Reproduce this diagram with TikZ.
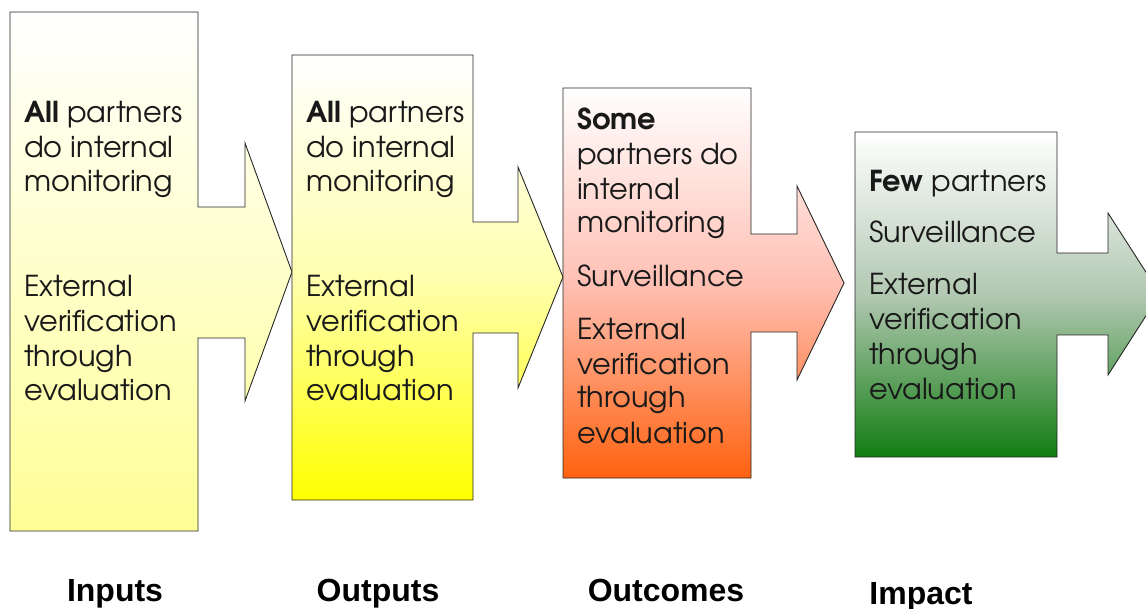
\documentclass[tikz,border=0pt]{standalone}
\usepackage{fontspec}
\newfontfamily\bodyfont{texgyreadventor}[Extension=.otf, UprightFont=*-regular, BoldFont=*-bold]
\newfontfamily\labelfont{Liberation Sans}
\tikzset{
  arrowshape/.style={draw=black!85, line width=0.9pt, line join=miter},
  linetext/.style={anchor=base west, inner sep=0pt, font=\bodyfont\fontsize{28.8}{34}\selectfont, text=black!90},
  stagelabel/.style={anchor=base, inner sep=0pt, font=\labelfont\bfseries\fontsize{32}{38}\selectfont}
}
\begin{document}
\begin{tikzpicture}[x=1pt,y=-1pt]
\useasboundingbox (0,0) rectangle (1146,609);
% Shape 1: Inputs
\path[arrowshape, top color=white, bottom color={rgb,255:red,255;green,255;blue,150}]
  (10,12) -- (198,12) -- (198,207) -- (245,207) -- (245,143) -- (292,272) -- (245,401) -- (245,338) -- (198,338) -- (198,531) -- (10,531) -- cycle;
% Shape 2: Outputs
\path[arrowshape, top color=white, bottom color={rgb,255:red,255;green,255;blue,0}, middle color={rgb,255:red,255;green,255;blue,175}]
  (292,55) -- (473,55) -- (473,222) -- (518,222) -- (518,167) -- (563,277) -- (518,388) -- (518,333) -- (473,333) -- (473,500) -- (292,500) -- cycle;
% Shape 3: Outcomes
\path[arrowshape, top color=white, bottom color={rgb,255:red,255;green,98;blue,15}, middle color={rgb,255:red,255;green,192;blue,180}]
  (563,88) -- (751,88) -- (751,234) -- (797,234) -- (797,186) -- (844,283) -- (797,380) -- (797,332) -- (751,332) -- (751,478) -- (563,478) -- cycle;
% Shape 4: Impact
\path[arrowshape, top color=white, bottom color={rgb,255:red,18;green,125;blue,18}, middle color={rgb,255:red,178;green,200;blue,178}]
  (855,132) -- (1057,132) -- (1057,253) -- (1108,253) -- (1108,213) -- (1160,294) -- (1108,375) -- (1108,335) -- (1057,335) -- (1057,457) -- (855,457) -- cycle;

% Texts shape 1
\node[linetext] (a1) at (24,123) {\textbf{All} partners};
\node[linetext] (a2) at (24,157.5) {do internal};
\node[linetext] (a3) at (24,192) {monitoring};
\node[linetext] (a4) at (24,297) {External};
\node[linetext] (a5) at (24,332) {verification};
\node[linetext] (a6) at (24,366.5) {through};
\node[linetext] (a7) at (24,401) {evaluation};
% Texts shape 2
\node[linetext] (b1) at (306,123) {\textbf{All} partners};
\node[linetext] (b2) at (306,157.5) {do internal};
\node[linetext] (b3) at (306,192) {monitoring};
\node[linetext] (b4) at (306,297) {External};
\node[linetext] (b5) at (306,332) {verification};
\node[linetext] (b6) at (306,366.5) {through};
\node[linetext] (b7) at (306,401) {evaluation};
% Texts shape 3
\node[linetext] (c1) at (577,130) {\textbf{Some}};
\node[linetext] (c2) at (577,165) {partners do};
\node[linetext] (c3) at (577,200) {internal};
\node[linetext] (c4) at (577,233) {monitoring};
\node[linetext] (c5) at (577,287) {Surveillance};
\node[linetext] (c6) at (577,340) {External};
\node[linetext] (c7) at (577,375) {verification};
\node[linetext] (c8) at (577,408) {through};
\node[linetext] (c9) at (577,443) {evaluation};
% Texts shape 4
\node[linetext] (d1) at (869,191.5) {\textbf{Few} partners};
\node[linetext] (d2) at (869,243) {Surveillance};
\node[linetext] (d3) at (869,295) {External};
\node[linetext] (d4) at (869,330) {verification};
\node[linetext] (d5) at (869,365) {through};
\node[linetext] (d6) at (869,400) {evaluation};

% Stage labels
\node[stagelabel] (inputs) at (115,601) {Inputs};
\node[stagelabel] (outputs) at (378,601) {Outputs};
\node[stagelabel] (outcomes) at (666,601) {Outcomes};
\node[stagelabel] (impact) at (921,604) {Impact};
\end{tikzpicture}
\end{document}
